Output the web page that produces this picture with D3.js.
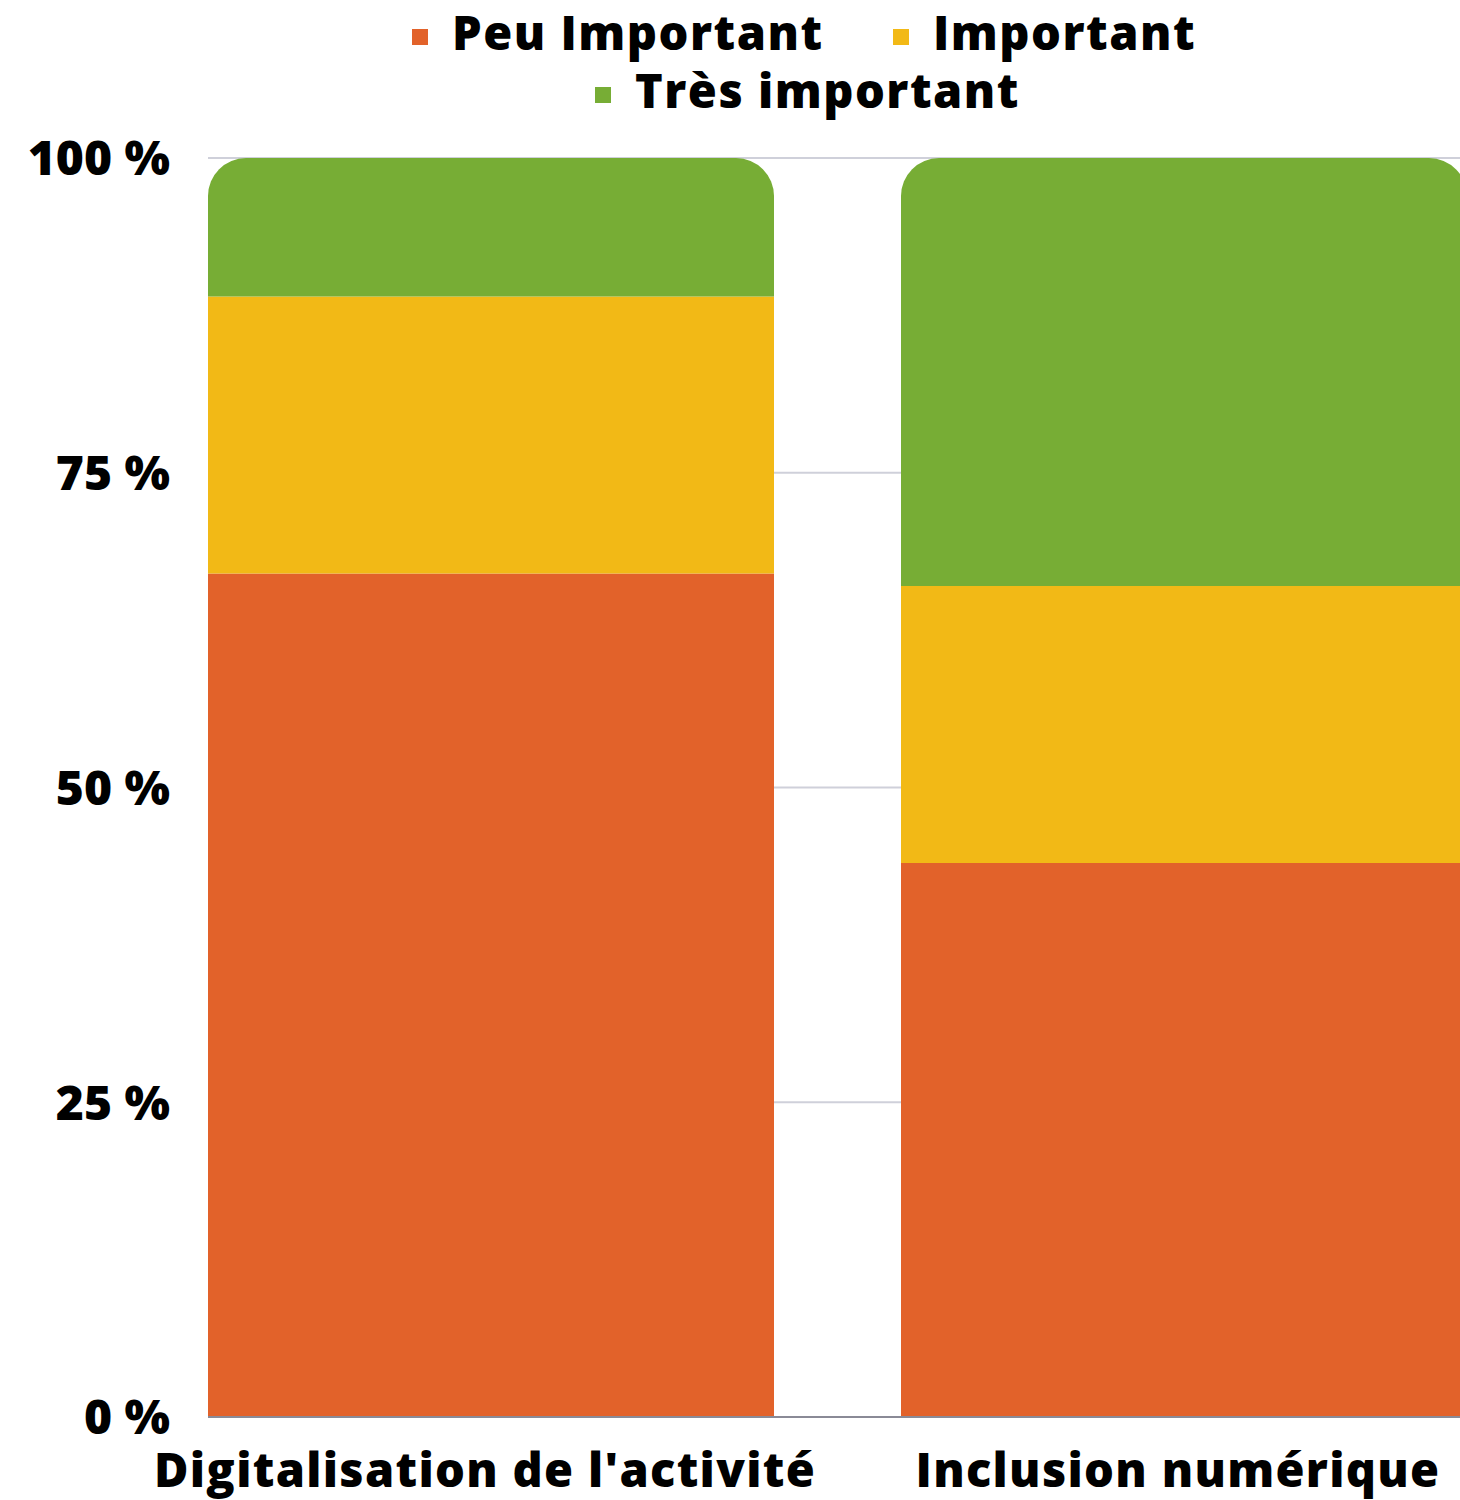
<!DOCTYPE html>
<html>
<head>
<meta charset="utf-8">
<style>
  body { margin: 0; background: #fff; }
  text { font-family: "Open Sans", sans-serif; font-weight: 800; fill: #000; }
</style>
</head>
<body>
<svg id="chart"></svg>
<script src="https://cdnjs.cloudflare.com/ajax/libs/d3/7.8.5/d3.min.js"></script>
<script>
  // data
  var categories  = ["Digitalisation de l'activité", "Inclusion numérique"];
  var seriesNames = ["Peu Important", "Important", "Très important"];
  var peuImportant  = [67, 44];
  var important     = [22, 22];
  var tresImportant = [11, 34];
  var yTicks = [0, 25, 50, 75, 100];
  var colors = ["#e2622a", "#f2b916", "#77ad35"];

  var width   = 1460,
      height  = 1500,
      mLeft   = 208,
      mTop    = 158,
      mBottom = 1417,
      radius  = 38;

  var svg = d3.select("#chart").attr("width", width).attr("height", height);

  var rows = categories.map(function(c, i) {
    return { cat: c, "Peu Important": peuImportant[i], "Important": important[i], "Très important": tresImportant[i] };
  });
  var stack = d3.stack().keys(seriesNames)(rows);

  var x = d3.scaleBand().domain(categories).range([mLeft, mLeft + 1259]).paddingInner(127 / 693);
  var y = d3.scaleLinear().domain([0, 100]).range([mBottom, mTop]);

  // grid
  svg.append("g").selectAll("line")
    .data(yTicks.filter(function(d) { return d > 0; }))
    .enter().append("line")
      .attr("x1", mLeft).attr("x2", width)
      .attr("y1", function(d) { return y(d); }).attr("y2", function(d) { return y(d); })
      .attr("stroke", "#cfd0da").attr("stroke-width", 2);

  // bars, top segment gets rounded corners
  function segPath(x0, w, y0, y1, rounded) {
    if (!rounded) return "M" + x0 + "," + y0 + "H" + (x0 + w) + "V" + y1 + "H" + x0 + "Z";
    var r = Math.min(radius, (y0 - y1));
    return "M" + x0 + "," + y0 + "V" + (y1 + r) +
      "A" + r + "," + r + " 0 0 1 " + (x0 + r) + "," + y1 +
      "H" + (x0 + w - r) +
      "A" + r + "," + r + " 0 0 1 " + (x0 + w) + "," + (y1 + r) +
      "V" + y0 + "Z";
  }

  stack.forEach(function(layer, li) {
    svg.append("g").attr("fill", colors[li]).selectAll("path")
      .data(layer).enter().append("path")
        .attr("d", function(d) {
          return segPath(x(d.data.cat), x.bandwidth(), y(d[0]), y(d[1]), li === stack.length - 1);
        });
  });

  // zero axis line
  svg.append("line")
    .attr("x1", mLeft).attr("x2", width)
    .attr("y1", y(0)).attr("y2", y(0))
    .attr("stroke", "#8a8a96").attr("stroke-width", 2);

  // y labels
  svg.append("g").selectAll("text")
    .data(yTicks).enter().append("text")
      .attr("x", 170).attr("y", function(d) { return y(d); })
      .attr("dy", "0.36em")
      .attr("text-anchor", "end")
      .style("font-size", "48px")
      .text(function(d) { return d + " %"; });

  // x labels
  svg.append("g").selectAll("text")
    .data(categories).enter().append("text")
      .attr("x", function(d) { return x(d) + x.bandwidth() / 2 - 6; })
      .attr("y", 1487)
      .attr("text-anchor", "middle")
      .style("font-size", "47px")
      .style("letter-spacing", "1.3px")
      .text(function(d) { return d; });

  // legend
  var legendPos = [[412, 50], [893, 50], [595, 108]];
  var lg = svg.append("g").selectAll("g")
    .data(seriesNames).enter().append("g")
      .attr("transform", function(d, i) { return "translate(" + legendPos[i][0] + "," + legendPos[i][1] + ")"; });
  lg.append("rect")
    .attr("x", 0).attr("y", -21).attr("width", 16).attr("height", 16)
    .attr("fill", function(d, i) { return colors[i]; });
  lg.append("text")
    .attr("x", 40).attr("y", 0)
    .style("font-size", "47px")
    .style("letter-spacing", "1.5px")
    .text(function(d) { return d; });
</script>
</body>
</html>
